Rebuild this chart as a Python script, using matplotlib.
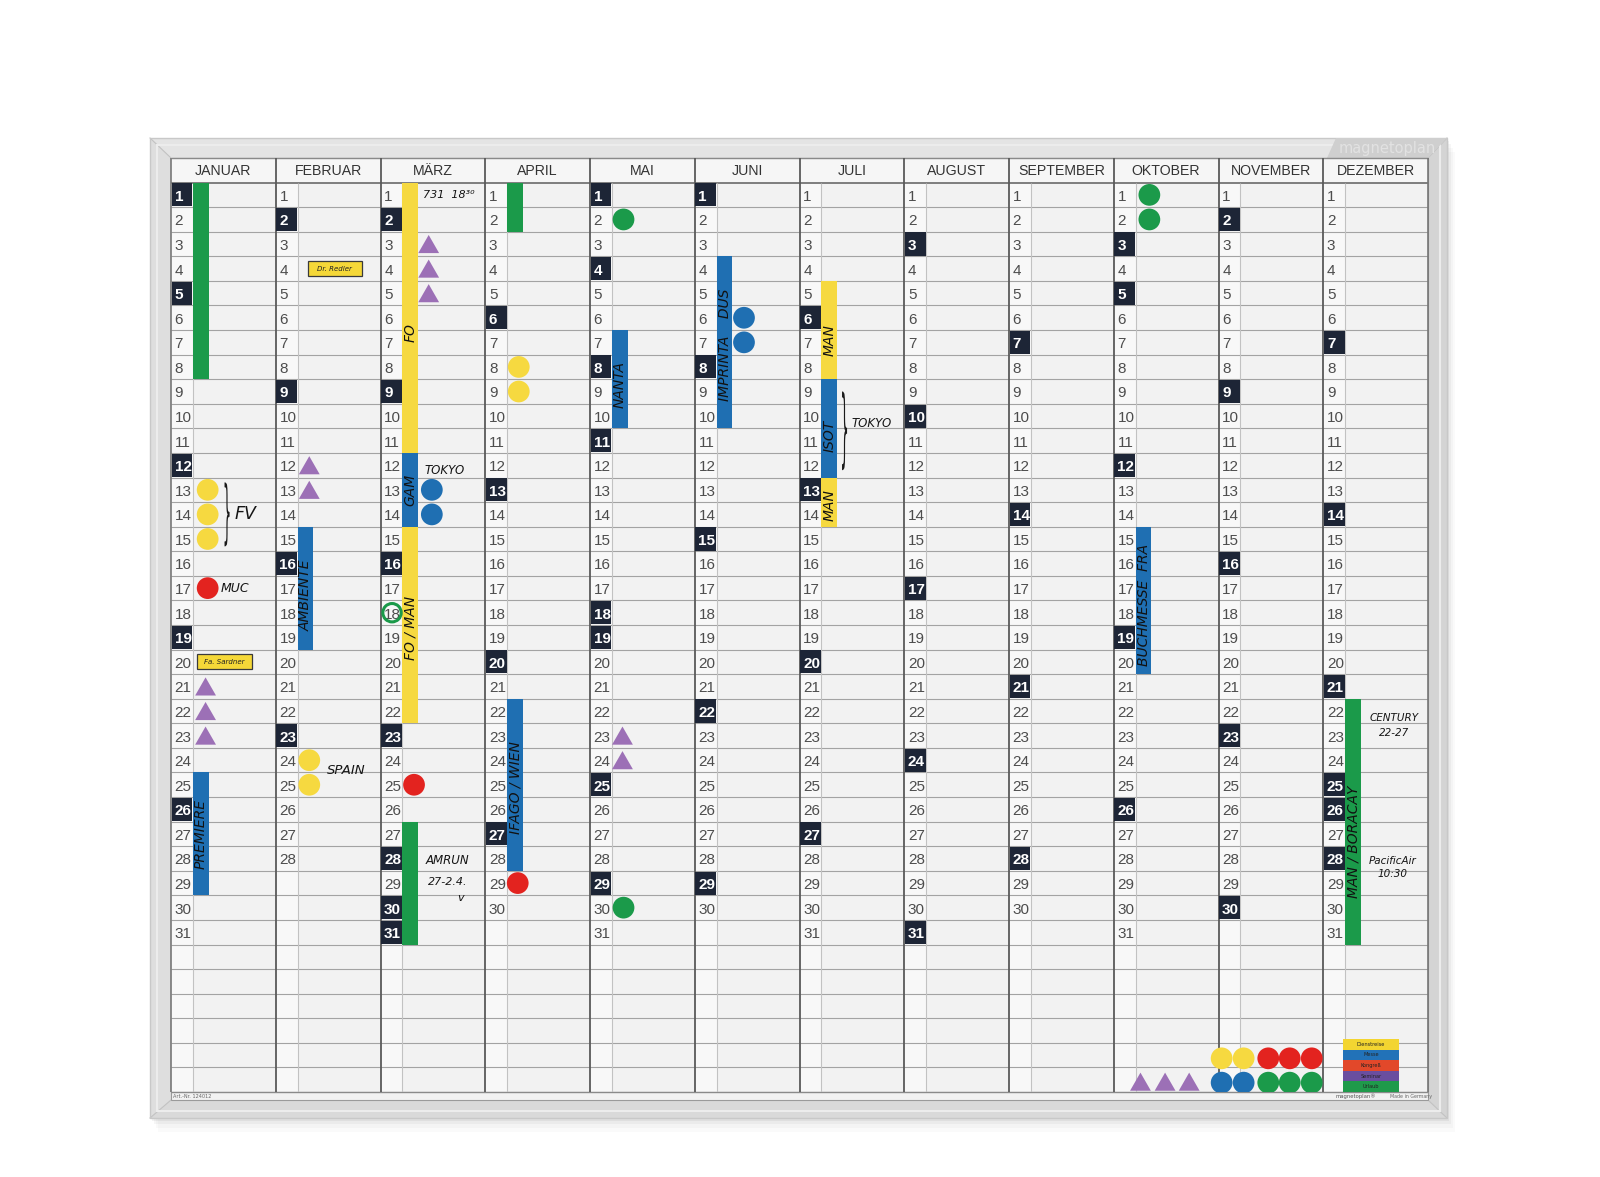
import matplotlib
matplotlib.use("Agg")
import numpy as np
import matplotlib.pyplot as plt
from matplotlib.patches import Polygon, Rectangle, PathPatch
from matplotlib.textpath import TextPath
from matplotlib.font_manager import FontProperties
import matplotlib.transforms as mtransforms

# ---------------- data ----------------
months = ["JANUAR", "FEBRUAR", "MÄRZ", "APRIL", "MAI", "JUNI", "JULI",
          "AUGUST", "SEPTEMBER", "OKTOBER", "NOVEMBER", "DEZEMBER"]
days_in_month = [31, 28, 31, 30, 31, 30, 31, 31, 30, 31, 30, 31]
dark_days = [
    [1, 5, 12, 19, 26],
    [2, 9, 16, 23],
    [2, 9, 16, 23, 28, 30, 31],
    [6, 13, 20, 27],
    [1, 4, 8, 11, 18, 19, 25, 29],
    [1, 8, 15, 22, 29],
    [6, 13, 20, 27],
    [3, 10, 17, 24, 31],
    [7, 14, 21, 28],
    [3, 5, 12, 19, 26],
    [2, 9, 16, 23, 30],
    [7, 14, 21, 25, 26, 28],
]

# magnetic strips (month index, first day, last day)
bar_month = [0, 0, 1, 2, 2, 2, 2, 3, 3, 4, 5, 6, 6, 6, 9, 11]
bar_start = [1, 25, 15, 1, 12, 15, 27, 1, 22, 7, 4, 5, 9, 13, 15, 22]
bar_end = [8, 29, 19, 11, 14, 22, 31, 2, 28, 10, 10, 8, 12, 14, 20, 31]
bar_color = ["green", "blue", "blue", "yellow", "blue", "yellow", "green", "green",
             "blue", "blue", "blue", "yellow", "blue", "yellow", "blue", "green"]
bar_label = ["", "PREMIERE", "AMBIENTE", "FO", "GAM", "FO / MAN", "", "",
             "IFAGO / WIEN", "NANTA", "IMPRINTA    DUS", "MAN", "ISOT", "MAN",
             "BUCHMESSE  FRA", "MAN / BORACAY"]
bar_label_row = [0, 27, 17.3, 6.6, 13, 18.6, 0, 0, 25.1, 8.7, 7.1, 6.9, 10.8, 13.6, 17.7, 27.3]

# round magnets
dot_month = [0, 0, 0, 0, 1, 1, 2, 2, 2, 3, 3, 3, 4, 4, 5, 5, 9, 9,
             10, 10, 10, 10, 10, 10, 10, 10, 10, 10]
dot_day = [13, 14, 15, 17, 24, 25, 13, 14, 25, 8, 9, 29, 2, 30, 6, 7, 1, 2,
           36.13, 36.13, 36.13, 36.13, 36.13, 37.12, 37.12, 37.12, 37.12, 37.12]
dot_x = [0.35, 0.35, 0.35, 0.35, 0.32, 0.32, 0.49, 0.49, 0.32, 0.32, 0.32, 0.31,
         0.32, 0.32, 0.47, 0.47, 0.34, 0.34,
         0.03, 0.24, 0.475, 0.68, 0.89, 0.03, 0.24, 0.475, 0.68, 0.89]
dot_color = ["yellow", "yellow", "yellow", "red", "yellow", "yellow", "blue", "blue",
             "red", "yellow", "yellow", "red", "green", "green", "blue", "blue",
             "green", "green",
             "yellow", "yellow", "red", "red", "red", "blue", "blue", "green", "green", "green"]

# triangular magnets
tri_month = [0, 0, 0, 1, 1, 2, 2, 2, 4, 4, 9, 9, 9]
tri_day = [21, 22, 23, 12, 13, 3, 4, 5, 23, 24, 37.08, 37.08, 37.08]
tri_x = [0.33, 0.33, 0.33, 0.32, 0.32, 0.46, 0.46, 0.46, 0.31, 0.31, 0.255, 0.49, 0.72]

# ring magnet around a day number
ring_month = [2]
ring_day = [18]

# name tags
tag_month = [1, 0]
tag_day = [4, 20]
tag_x0 = [0.31, 0.25]
tag_x1 = [0.82, 0.77]
tag_text = ["Dr. Redler", "Fa. Sardner"]

# handwritten notes
note_month = [2, 2, 0, 0, 1, 2, 2, 2, 6, 11, 11, 11, 11]
note_x = [0.41, 0.42, 0.61, 0.47, 0.49, 0.64, 0.64, 0.76, 0.50, 0.68, 0.68, 0.66, 0.66]
note_row = [1, 12.2, 14, 17, 24.4, 28.1, 28.95, 29.6, 10.3, 22.3, 22.9, 28.1, 28.65]
note_text = ["731  18³⁰", "TOKYO", "FV", "MUC", "SPAIN", "AMRUN", "27-2.4.", "v",
             "TOKYO", "CENTURY", "22-27", "PacificAir", "10:30"]
note_size = [8, 8.5, 12.5, 9, 9.5, 8.5, 8, 8, 8.5, 7.5, 7.5, 7.5, 7.5]
note_ha = ["left", "left", "left", "left", "left", "center", "center", "center",
           "left", "center", "center", "center", "center"]

# braces
brace_month = [0, 6]
brace_x = [0.535, 0.43]
brace_from = [12.7, 9.0]
brace_to = [15.3, 12.2]

# colour legend strips
legend_labels = ["Dienstreise", "Messe", "Kongreß", "Seminar", "Urlaub"]
legend_colors = ["#f3d531", "#2272b8", "#e2482a", "#6a4e9f", "#1f9a4b"]

COL = {"green": "#1b9a4a", "blue": "#1f6fb2", "yellow": "#f6d940",
       "red": "#e3231f", "purple": "#9c70b6"}

# ---------------- figure ----------------
W, H = 1600, 1177
fig = plt.figure(figsize=(16, 11.77), dpi=100)
fig.patch.set_facecolor("white")

bg = fig.add_axes([0, 0, 1, 1])
bg.set_xlim(0, W)
bg.set_ylim(H, 0)
bg.axis("off")

# frame geometry (pixels)
L, R, T, B = 150, 1447, 138, 1118
l, r, t, b = 171, 1428, 158, 1100
GL, GR, GT, GB = 171, 1428, 158, 1092

# soft shadow
for k, a in zip([14, 10, 6, 3], [0.018, 0.025, 0.035, 0.05]):
    bg.add_patch(Rectangle((L + k * 0.6, T + k), R - L, B - T, fc="black",
                           ec="none", alpha=a, zorder=0))

bg.add_patch(Polygon([(L, T), (R, T), (r, t), (l, t)], closed=True, fc="#e4e4e4", ec="none", zorder=1))
bg.add_patch(Polygon([(L, B), (R, B), (r, b), (l, b)], closed=True, fc="#d9d9d9", ec="none", zorder=1))
bg.add_patch(Polygon([(L, T), (l, t), (l, b), (L, B)], closed=True, fc="#dedede", ec="none", zorder=1))
bg.add_patch(Polygon([(R, T), (r, t), (r, b), (R, B)], closed=True, fc="#d4d4d4", ec="none", zorder=1))
for (x0, y0, x1, y1) in [(L, T, l, t), (R, T, r, t), (L, B, l, b), (R, B, r, b)]:
    bg.plot([x0, x1], [y0, y1], color="#c2c2c2", lw=0.8, zorder=2)
bg.add_patch(Rectangle((L, T), R - L, B - T, fc="none", ec="#c8c8c8", lw=1.0, zorder=2))
bg.add_patch(Rectangle((L + 7, T + 7), R - L - 14, B - T - 14, fc="none", ec="#ececec", lw=1.5, zorder=2))
# logo area top right
bg.add_patch(Polygon([(1336, T), (R, T), (r, t), (1327, t)], closed=True, fc="#cfcfcf", ec="none", zorder=2))
bg.text(1387, 148.5, "magnetoplan", ha="center", va="center", fontsize=10.5,
        color="#e2e2e2", family="DejaVu Sans", zorder=3)

# board surface
bg.add_patch(Rectangle((l, t), r - l, b - t, fc="#f2f2f2", ec="#9a9a9a", lw=0.8, zorder=2))
bg.text(173, 1096.5, "Art.-Nr. 124012", fontsize=3.6, color="#666", va="center", zorder=3)
bg.text(1336, 1096.5, "magnetoplan®", fontsize=3.8, color="#555", va="center", zorder=3)
bg.text(1390, 1096.5, "Made in Germany", fontsize=3.4, color="#666", va="center", zorder=3)

# ---------------- planner grid axes ----------------
ax = fig.add_axes([GL / W, 1 - GB / H, (GR - GL) / W, (GB - GT) / H])
ax.set_xlim(0, 12)
ax.set_ylim(37.5, -0.5)
ax.axis("off")

NW = 0.21  # width of the day-number strip (month units)
m_idx = np.arange(12)

ax.add_patch(Rectangle((0, -0.5), 12, 1, fc="#f6f6f6", ec="none", zorder=0))
for m in m_idx:
    ax.add_patch(Rectangle((m, 0.5), NW, 37, fc="#f8f8f8", ec="none", zorder=0))

ax.hlines(np.arange(1.5, 38, 1), 0, 12, color="#a3a3a3", lw=0.8, zorder=1)
ax.hlines([0.5], 0, 12, color="#6a6a6a", lw=1.2, zorder=1)
ax.hlines([-0.5, 37.5], 0, 12, color="#8a8a8a", lw=1.0, zorder=1, clip_on=False)
ax.vlines(m_idx + NW, 0.5, 37.5, color="#c2c2c2", lw=0.8, zorder=1)
ax.vlines(np.arange(1, 12), -0.5, 37.5, color="#5a5a5a", lw=1.3, zorder=1)
ax.vlines([0, 12], -0.5, 37.5, color="#777777", lw=1.2, zorder=1, clip_on=False)

for m, name in enumerate(months):
    ax.text(m + 0.5, 0.02, name, ha="center", va="center", fontsize=10.2,
            color="#333333", family="Liberation Sans", zorder=5)

# dark (holiday / sunday) cells
dk_x, dk_y = [], []
for m in m_idx:
    for d in dark_days[m]:
        dk_x.append(m + NW / 2)
        dk_y.append(d)
ax.bar(dk_x, 0.94, bottom=np.array(dk_y) - 0.47, width=NW - 0.012,
       color="#1d2536", zorder=2)

for m in m_idx:
    for d in range(1, days_in_month[m] + 1):
        dark = d in dark_days[m]
        ax.text(m + 0.035, d + 0.24, str(d), ha="left", va="baseline",
                fontsize=11, family="Liberation Sans",
                color="white" if dark else "#4d4d4d",
                fontweight="bold" if dark else "normal", zorder=3)

# strips
bx = np.array(bar_month) + 0.285
bstart = np.array(bar_start)
bend = np.array(bar_end)
ax.bar(bx, bend - bstart + 1, bottom=bstart - 0.5, width=0.15,
       color=[COL[c] for c in bar_color], zorder=4)
for x, lab, row in zip(bx, bar_label, bar_label_row):
    if lab:
        ax.text(x, row, lab, rotation=90, ha="center", va="center", fontsize=10,
                style="italic", family="DejaVu Sans", color="#111111", zorder=5)

# round magnets
ax.scatter(np.array(dot_month) + np.array(dot_x), dot_day, s=245,
           c=[COL[c] for c in dot_color], edgecolors="none", zorder=6)
ax.scatter(np.array(ring_month) + 0.11, ring_day, s=175, facecolors="none",
           edgecolors=COL["green"], linewidths=2.2, zorder=6)
tri_marker = [(-1, -0.87), (1, -0.87), (0, 0.87), (-1, -0.87)]
ax.scatter(np.array(tri_month) + np.array(tri_x), tri_day, s=225,
           marker=tri_marker, c=COL["purple"], edgecolors="none", zorder=6)

# name tags
for m, d, x0, x1, txt in zip(tag_month, tag_day, tag_x0, tag_x1, tag_text):
    ax.bar(m + (x0 + x1) / 2, 0.62, bottom=d - 0.31, width=x1 - x0,
           color="#f5d838", edgecolor="#3a3a3a", lw=0.9, zorder=6)
    ax.text(m + (x0 + x1) / 2, d, txt, ha="center", va="center", fontsize=5,
            style="italic", color="#222", zorder=7)

# handwritten notes
for m, x, row, txt, fs, ha in zip(note_month, note_x, note_row, note_text, note_size, note_ha):
    ax.text(m + x, row, txt, ha=ha, va="center", fontsize=fs, style="italic",
            family="DejaVu Sans", color="#151515", zorder=7)

# braces
fp = FontProperties(family="DejaVu Sans")
tp = TextPath((0, 0), "}", size=1, prop=fp)
ext = tp.get_extents()
for m, x, y0, y1 in zip(brace_month, brace_x, brace_from, brace_to):
    p0 = ax.transData.transform((m + x, y0))
    p1 = ax.transData.transform((m + x, y1))
    hpx = abs(p1[1] - p0[1])
    tr = (mtransforms.Affine2D()
          .translate(-(ext.x0 + ext.width / 2), -(ext.y0 + ext.height / 2))
          .scale(13.0, hpx / ext.height)
          + mtransforms.ScaledTranslation(m + x, (y0 + y1) / 2, ax.transData))
    ax.add_patch(PathPatch(tp, transform=tr, fc="#1a1a1a", ec="none", zorder=7))

# colour legend strips (December column, bottom)
n = len(legend_labels)
top, bottom = 35.34, 37.5
hh = (bottom - top) / n
for i, (lab, c) in enumerate(zip(legend_labels, legend_colors)):
    ax.bar(11 + 0.455, hh, bottom=top + i * hh, width=0.53, color=c,
           edgecolor="none", zorder=6)
    ax.text(11 + 0.455, top + (i + 0.5) * hh, lab, ha="center", va="center",
            fontsize=3.6, color="#222", zorder=7)

fig.savefig("out.png", dpi=100, facecolor="white")
